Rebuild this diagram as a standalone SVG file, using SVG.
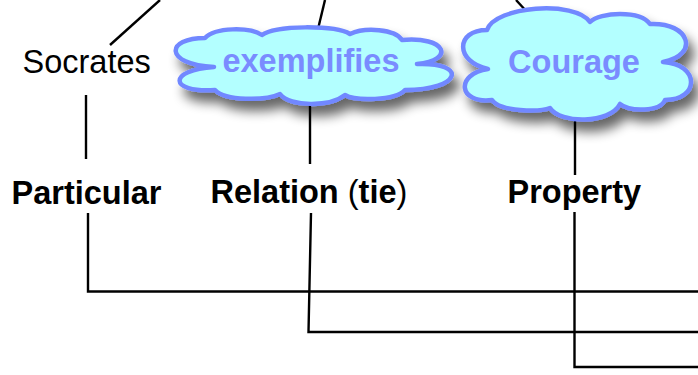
<svg xmlns="http://www.w3.org/2000/svg" width="698" height="375" viewBox="0 0 698 375">
<defs>
<filter id="shadow" x="-20%" y="-30%" width="150%" height="190%">
<feGaussianBlur in="SourceAlpha" stdDeviation="6"/>
<feOffset dx="6" dy="10" result="b"/>
<feComponentTransfer><feFuncA type="linear" slope="0.6"/></feComponentTransfer>
<feMerge><feMergeNode/><feMergeNode in="SourceGraphic"/></feMerge>
</filter>
</defs>
<style>
.ln{fill:none;stroke:#000;stroke-width:2.4}
.cloud{fill:#b3ffff;stroke:#7188ff;stroke-width:4.5;stroke-linejoin:round}
.t{font-family:"Liberation Sans",Arial,sans-serif;font-size:32.5px;fill:#000}
.b{font-weight:bold}
.ct{font-family:"Liberation Sans",Arial,sans-serif;font-size:32.5px;font-weight:bold;fill:#7a8cff;text-anchor:middle}
</style>
<rect width="698" height="375" fill="#fff"/>
<g id="connectors">
<path class="ln" d="M110,45 L160,0"/>
<path class="ln" d="M86,95 L86,159"/>
<path class="ln" d="M318,29 L325,0"/>
<path class="ln" d="M310,103 L310,164"/>
<path class="ln" d="M528,13 L516,0"/>
<path class="ln" d="M575,118 L575,175"/>
<path class="ln" d="M88,213 L88,291.5 L698,291.5"/>
<path class="ln" d="M311,213 L308.5,332 L698,332"/>
<path class="ln" d="M574.5,212 L574.5,367 L698,367"/>
</g>
<g id="socrates">
<text class="t" x="22.5" y="73">Socrates</text>
</g>
<g id="exemplifies">
<path class="cloud" filter="url(#shadow)" d="M214,67 C163,64 166,38 205,38 C215,27 250,27 262,35 C275,25 335,25 350,34 C365,27 395,29 402,40 C446,36 456,60 417,64 C468,62 462,90 405,90 C395,101 355,101 345,95 C330,107 290,107 280,94 C265,101 225,101 215,90 C168,93 168,70 214,67 Z"/>
<text class="ct" x="311" y="72">exemplifies</text>
</g>
<g id="courage">
<path class="cloud" filter="url(#shadow)" d="M488,69 C455,62 455,30 487,30 C495,6 575,0 590,22 C600,12 640,10 650,24 C690,22 700,55 663,62 C700,64 700,100 665,100 C660,112 630,112 620,104 C610,124 560,124 550,108 C540,112 500,112 492,100 C458,104 455,74 488,69 Z"/>
<text class="ct" x="574" y="72.7">Courage</text>
</g>
<g id="particular">
<text class="t b" x="11.5" y="204">Particular</text>
</g>
<g id="relation">
<text class="t" x="210.5" y="203"><tspan font-weight="bold">Relation</tspan> (<tspan font-weight="bold">tie</tspan>)</text>
</g>
<g id="property">
<text class="t b" x="507.5" y="203">Property</text>
</g>
</svg>
